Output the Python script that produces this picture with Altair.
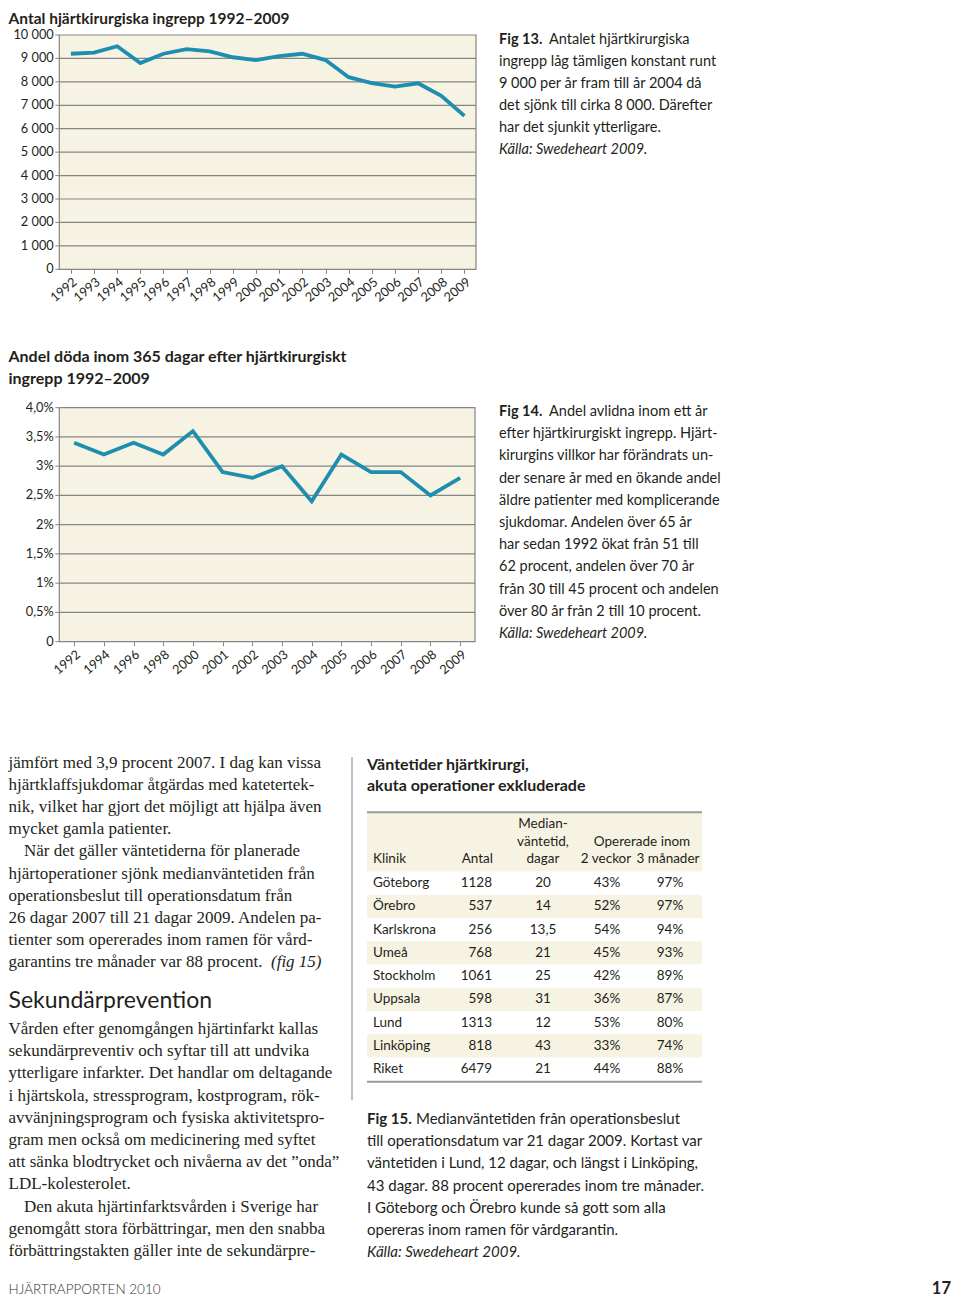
import altair as alt
import pandas as pd

# ---------------- data ----------------
years1 = ["1992", "1993", "1994", "1995", "1996", "1997", "1998", "1999", "2000",
          "2001", "2002", "2003", "2004", "2005", "2006", "2007", "2008", "2009"]
ingrepp = [9200, 9250, 9520, 8800, 9200, 9400, 9300, 9050, 8930,
           9100, 9200, 8930, 8200, 7950, 7800, 7940, 7400, 6550]
y1_ticks = [0, 1000, 2000, 3000, 4000, 5000, 6000, 7000, 8000, 9000, 10000]
y1_labels = ["0", "1 000", "2 000", "3 000", "4 000", "5 000", "6 000", "7 000",
             "8 000", "9 000", "10 000"]

years2 = ["1992", "1994", "1996", "1998", "2000", "2001", "2002", "2003",
          "2004", "2005", "2006", "2007", "2008", "2009"]
doda = [3.4, 3.2, 3.4, 3.2, 3.6, 2.9, 2.8, 3.0, 2.4, 3.2, 2.9, 2.9, 2.5, 2.8]
y2_ticks = [0, 0.5, 1, 1.5, 2, 2.5, 3, 3.5, 4]
y2_labels = ["0", "0,5%", "1%", "1,5%", "2%", "2,5%", "3%", "3,5%", "4,0%"]

title1 = "Antal hjärtkirurgiska ingrepp 1992–2009"
title2 = ["Andel döda inom 365 dagar efter hjärtkirurgiskt", "ingrepp 1992–2009"]

source = "Källa: Swedeheart 2009."
fig13_lead = "Fig 13."
fig13 = ["Antalet hjärtkirurgiska",
         "ingrepp låg tämligen konstant runt",
         "9 000 per år fram till år 2004 då",
         "det sjönk till cirka 8 000. Därefter",
         "har det sjunkit ytterligare."]
fig14_lead = "Fig 14."
fig14 = ["Andel avlidna inom ett år",
         "efter hjärtkirurgiskt ingrepp. Hjärt-",
         "kirurgins villkor har förändrats un-",
         "der senare år med en ökande andel",
         "äldre patienter med komplicerande",
         "sjukdomar. Andelen över 65 år",
         "har sedan 1992 ökat från 51 till",
         "62 procent, andelen över 70 år",
         "från 30 till 45 procent och andelen",
         "över 80 år från 2 till 10 procent."]

body1 = ["jämfört med 3,9 procent 2007. I dag kan vissa",
         "hjärtklaffsjukdomar åtgärdas med katetertek-",
         "nik, vilket har gjort det möjligt att hjälpa även",
         "mycket gamla patienter.",
         "När det gäller väntetiderna för planerade",
         "hjärtoperationer sjönk medianväntetiden från",
         "operationsbeslut till operationsdatum från",
         "26 dagar 2007 till 21 dagar 2009. Andelen pa-",
         "tienter som opererades inom ramen för vård-",
         "garantins tre månader var 88 procent."]
body1_indent = [4]
fig_ref = "(fig 15)"
heading = "Sekundärprevention"
body2 = ["Vården efter genomgången hjärtinfarkt kallas",
         "sekundärpreventiv och syftar till att undvika",
         "ytterligare infarkter. Det handlar om deltagande",
         "i hjärtskola, stressprogram, kostprogram, rök-",
         "avvänjningsprogram och fysiska aktivitetspro-",
         "gram men också om medicinering med syftet",
         "att sänka blodtrycket och nivåerna av det ”onda”",
         "LDL-kolesterolet.",
         "Den akuta hjärtinfarktsvården i Sverige har",
         "genomgått stora förbättringar, men den snabba",
         "förbättringstakten gäller inte de sekundärpre-"]
body2_indent = [8]

table_title = ["Väntetider hjärtkirurgi,", "akuta operationer exkluderade"]
klinik = ["Göteborg", "Örebro", "Karlskrona", "Umeå", "Stockholm",
          "Uppsala", "Lund", "Linköping", "Riket"]
antal = [1128, 537, 256, 768, 1061, 598, 1313, 818, 6479]
median_dagar = ["20", "14", "13,5", "21", "25", "31", "12", "43", "21"]
inom_2v = [43, 52, 54, 45, 42, 36, 53, 33, 44]
inom_3m = [97, 97, 94, 93, 89, 87, 80, 74, 88]

fig15_lead = "Fig 15."
fig15 = ["Medianväntetiden från operationsbeslut",
         "till operationsdatum var 21 dagar 2009. Kortast var",
         "väntetiden i Lund, 12 dagar, och längst i Linköping,",
         "43 dagar. 88 procent opererades inom tre månader.",
         "I Göteborg och Örebro kunde så gott som alla",
         "opereras inom ramen för vårdgarantin."]

footer_left = "HJÄRTRAPPORTEN 2010"
page_no = "17"

# ---------------- layout / style ----------------
M = 8
W, H = 944, 1292


def P(v):
    return v - M


SANS = "Lato"
SERIF = "Liberation Serif"
TXT = "#231f20"
TEAL = "#1d8db0"
CREAM = "#f7f3e3"
GRID = "#858585"
CAP = 14.5

layers = []


def lines_layer(lines, x, y0, dy, size, font=SANS, weight="normal", style="normal",
                align="left", color=TXT, indent=None, indent_px=0):
    n = len(lines)
    df = pd.DataFrame({"i": list(range(n)), "t": lines})
    span = max(n - 1, 1)
    ys = alt.Scale(domain=[0, span], range=[P(y0), P(y0) + span * dy], nice=False, zero=False)
    if indent:
        df["ind"] = [1 if i in indent else 0 for i in range(n)]
        xenc = alt.X("ind:Q", scale=alt.Scale(domain=[0, 1], range=[P(x), P(x) + indent_px],
                                              nice=False, zero=False), axis=None)
    else:
        xenc = alt.value(P(x))
    return alt.Chart(df).mark_text(
        align=align, baseline="middle", font=font, fontSize=size,
        fontWeight=weight, fontStyle=style, color=color
    ).encode(x=xenc, y=alt.Y("i:Q", scale=ys, axis=None), text="t:N")


def line_chart(years, values, ticks, labels, box):
    left, right, top, bottom = box
    df = pd.DataFrame({"year": years, "v": values})
    xs = alt.Scale(type="point", domain=years, range=[P(left), P(right)], padding=0.5)
    ys = alt.Scale(domain=[ticks[0], ticks[-1]], range=[P(bottom), P(top)], nice=False, zero=False)
    tick_df = pd.DataFrame({"g": ticks, "lab": labels})
    bg = alt.Chart(pd.DataFrame({"lo": [ticks[0]], "hi": [ticks[-1]]})).mark_rect(
        fill=CREAM, stroke=GRID, strokeWidth=1.2
    ).encode(x=alt.value(P(left)), x2=alt.value(P(right)),
             y=alt.Y("lo:Q", scale=ys, axis=None), y2="hi:Q")
    grid = alt.Chart(tick_df).transform_filter(
        f"datum.g > {ticks[0]} && datum.g < {ticks[-1]}"
    ).mark_rule(color=GRID, strokeWidth=1.2).encode(
        x=alt.value(P(left)), x2=alt.value(P(right)),
        y=alt.Y("g:Q", scale=ys, axis=None))
    yticks = alt.Chart(tick_df).mark_rule(color=GRID, strokeWidth=1).encode(
        x=alt.value(P(left) - 4), x2=alt.value(P(left)),
        y=alt.Y("g:Q", scale=ys, axis=None))
    ylabels = alt.Chart(tick_df).mark_text(
        align="right", baseline="middle", font=SANS, fontSize=12.8, color=TXT
    ).encode(x=alt.value(P(left) - 5.5), y=alt.Y("g:Q", scale=ys, axis=None), text="lab:N")
    line = alt.Chart(df).mark_line(color=TEAL, strokeWidth=3.8).encode(
        x=alt.X("year:O", scale=xs, title=None,
                axis=alt.Axis(orient="bottom", offset=-(H - P(bottom)), labelAngle=-40,
                              domain=False, grid=False, ticks=True, tickSize=4, tickColor=GRID,
                              labelFont=SANS, labelFontSize=12.8, labelColor=TXT, labelPadding=2,
                              labelOverlap=False)),
        y=alt.Y("v:Q", scale=ys, axis=None))
    return alt.layer(bg, grid, yticks, ylabels, line)


# ---------------- chart 1 ----------------
layers.append(lines_layer([title1], 8.5, 19, 20, 15.5, weight="bold"))
layers.append(line_chart(years1, ingrepp, y1_ticks, y1_labels, (59.3, 476.0, 35.0, 269.3)))
layers.append(lines_layer([fig13_lead], 499, 40, 22, CAP, weight="bold"))
layers.append(lines_layer(fig13[:1], 549, 40, 22, CAP))
layers.append(lines_layer(fig13[1:], 499, 62, 22, CAP))
layers.append(lines_layer([source], 499, 150, 22, CAP, style="italic"))

# ---------------- chart 2 ----------------
layers.append(lines_layer(title2, 8.5, 357, 22, 16, weight="bold"))
layers.append(line_chart(years2, doda, y2_ticks, y2_labels, (59.3, 475.0, 407.7, 641.7)))
layers.append(lines_layer([fig14_lead], 499, 412, 22.2, CAP, weight="bold"))
layers.append(lines_layer(fig14[:1], 549, 412, 22.2, CAP))
layers.append(lines_layer(fig14[1:], 499, 434.2, 22.2, CAP))
layers.append(lines_layer([source], 499, 634, 22.2, CAP, style="italic"))

# ---------------- body text ----------------
layers.append(lines_layer(body1, 8.5, 763, 22.1, 17, font=SERIF, indent=body1_indent, indent_px=15.5))
layers.append(lines_layer([fig_ref], 271, 763 + 9 * 22.1, 22.1, 17, font=SERIF, style="italic"))
layers.append(lines_layer([heading], 8.5, 1001, 22, 23))
layers.append(lines_layer(body2, 8.5, 1029, 22.2, 17, font=SERIF, indent=body2_indent, indent_px=15.5))

# separator
layers.append(alt.Chart(pd.DataFrame({"k": [0]})).mark_rule(color="#808080", strokeWidth=1).encode(
    x=alt.value(P(352)), y=alt.value(P(757)), y2=alt.value(P(1100))))

# ---------------- table ----------------
layers.append(lines_layer(table_title, 367, 765, 21, 16, weight="bold"))

row_scale = alt.Scale(domain=[0, len(klinik) - 1], range=[P(883), P(1069)], nice=False, zero=False)
# header band
layers.append(alt.Chart(pd.DataFrame({"k": [0]})).mark_rect(fill=CREAM).encode(
    x=alt.value(P(367)), x2=alt.value(P(702)), y=alt.value(P(813)), y2=alt.value(P(871.4))))
# striped rows
rows_df = pd.DataFrame({"i": list(range(len(klinik))), "k": klinik})
layers.append(alt.Chart(rows_df).transform_filter("datum.i % 2 == 1").transform_calculate(
    lo="datum.i - 0.5", hi="datum.i + 0.5").mark_rect(fill=CREAM).encode(
    x=alt.value(P(367)), x2=alt.value(P(702)),
    y=alt.Y("lo:Q", scale=row_scale, axis=None), y2="hi:Q"))
# rules
for yy in (812.3, 1081.7):
    layers.append(alt.Chart(pd.DataFrame({"k": [0]})).mark_rule(color="#9a9a9a", strokeWidth=2).encode(
        x=alt.value(P(367)), x2=alt.value(P(702)), y=alt.value(P(yy))))

# header texts
layers.append(lines_layer(["Median-", "väntetid,", "dagar"], 543, 824, 17.5, 13.5, align="center"))
layers.append(lines_layer(["Opererade inom"], 642, 841.7, 17.3, 13.5, align="center"))
layers.append(lines_layer(["2 veckor"], 606, 859, 17.3, 13.5, align="center"))
layers.append(lines_layer(["3 månader"], 668, 859, 17.3, 13.5, align="center"))
layers.append(lines_layer(["Klinik"], 373, 859, 17.3, 13.5))
layers.append(lines_layer(["Antal"], 493, 859, 17.3, 13.5, align="right"))

# table body
dy_row = (1069 - 883) / (len(klinik) - 1)
layers.append(lines_layer(klinik, 373, 883, dy_row, 13.5))
layers.append(lines_layer([str(a) for a in antal], 492, 883, dy_row, 13.5, align="right"))
layers.append(lines_layer(median_dagar, 543, 883, dy_row, 13.5, align="center"))
layers.append(lines_layer([f"{v}%" for v in inom_2v], 607, 883, dy_row, 13.5, align="center"))
layers.append(lines_layer([f"{v}%" for v in inom_3m], 670, 883, dy_row, 13.5, align="center"))

# fig 15 caption
layers.append(lines_layer([fig15_lead], 367, 1119, 22.17, 15, weight="bold"))
layers.append(lines_layer(fig15[:1], 416, 1119, 22.17, 15))
layers.append(lines_layer(fig15[1:], 367, 1141.17, 22.17, 15))
layers.append(lines_layer([source], 367, 1252, 22.17, 15, style="italic"))

# footer
layers.append(lines_layer([footer_left], 8.5, 1290, 20, 13.5, weight=300, color="#333333"))
layers.append(lines_layer([page_no], 951, 1289, 20, 16.5, weight="bold", align="right"))

chart = alt.layer(*layers).resolve_scale(x="independent", y="independent").properties(
    width=W, height=H, autosize="none", padding=0, background="white"
).configure_view(stroke=None)

chart.save("out.html", embed_options={"renderer": "svg", "actions": False})
